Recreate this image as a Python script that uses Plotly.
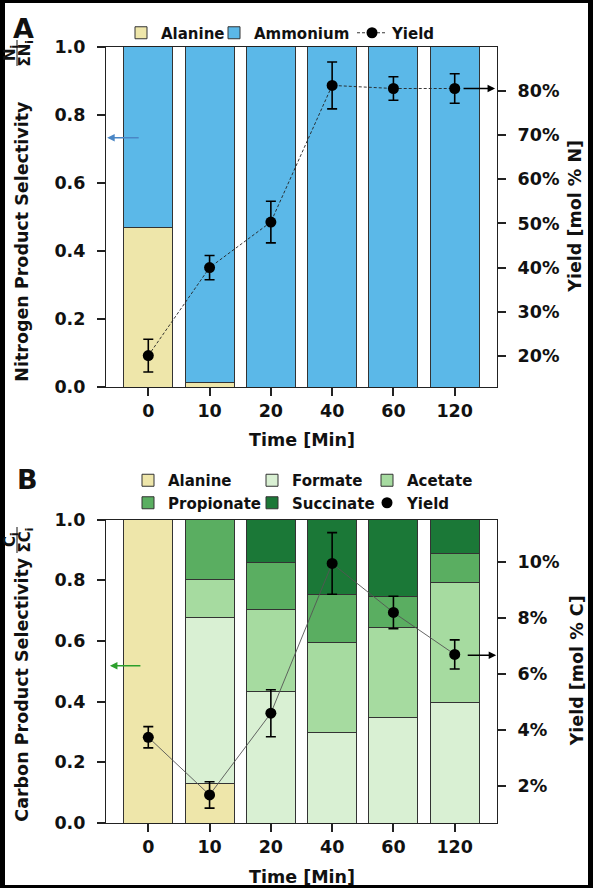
import plotly.graph_objects as go

W, H = 593, 888

# ---------------- data ----------------
times = ["0", "10", "20", "40", "60", "120"]

# Panel A: nitrogen product selectivity (fractions) and yield (mol % N)
n_alanine = [0.467, 0.013, None, None, None, None]
n_ammonium = [0.533, 0.987, 1.0, 1.0, 1.0, 1.0]
n_yield = [20.1, 40.0, 50.3, 81.2, 80.5, 80.5]
n_yield_err = [3.7, 2.75, 4.7, 5.3, 2.65, 3.35]

# Panel B: carbon product selectivity (fractions) and yield (mol % C)
c_alanine = [1.0, 0.129, None, None, None, None]
c_formate = [None, 0.547, 0.432, 0.299, 0.349, 0.398]
c_acetate = [None, 0.126, 0.270, 0.297, 0.294, 0.393]
c_propionate = [None, 0.198, 0.156, 0.157, 0.102, 0.096]
c_succinate = [None, None, 0.142, 0.247, 0.255, 0.113]
c_yield = [3.73, 1.67, 4.59, 9.94, 8.19, 6.69]
c_yield_err = [0.38, 0.47, 0.84, 1.10, 0.58, 0.52]

sel_ticks = [0.0, 0.2, 0.4, 0.6, 0.8, 1.0]
n_yield_ticks = [20, 30, 40, 50, 60, 70, 80]
c_yield_ticks = [2, 4, 6, 8, 10]

# ---------------- style ----------------
FONT = "DejaVu Sans"
INK = "#111111"
EDGE = "#333333"
COL = {
    "Alanine": "#EEE6AA",
    "Ammonium": "#5BB8E8",
    "Formate": "#D9F0D3",
    "Acetate": "#A6DBA0",
    "Propionate": "#5AAE61",
    "Succinate": "#1B7837",
}


def fx(px):
    return px / W


def fy(py):
    return 1 - py / H


XDOM = [fx(106), fx(497)]
A_DOM = [fy(387), fy(46.5)]
B_DOM = [fy(823), fy(519.5)]

tickfont = dict(family=FONT, size=17.5, color=INK, weight="bold")
legfont = dict(family=FONT, size=15, color=INK, weight="bold")

fig = go.Figure()


def bar(name, vals, xa, ya, legend):
    fig.add_trace(go.Bar(
        x=times, y=vals, name=name, xaxis=xa, yaxis=ya,
        marker=dict(color=COL[name], line=dict(color=EDGE, width=1)),
        legend=legend, showlegend=True, hoverinfo="skip",
    ))


# Panel A bars
bar("Alanine", n_alanine, "x", "y", "legend")
bar("Ammonium", n_ammonium, "x", "y", "legend5")

# Panel B bars
bar("Alanine", c_alanine, "x2", "y3", "legend2")
bar("Formate", c_formate, "x2", "y3", "legend3")
bar("Acetate", c_acetate, "x2", "y3", "legend4")
bar("Propionate", c_propionate, "x2", "y3", "legend2")
bar("Succinate", c_succinate, "x2", "y3", "legend3")

# Panel A yield
fig.add_trace(go.Scatter(
    x=times, y=n_yield, name="Yield", xaxis="x", yaxis="y2",
    mode="lines+markers",
    line=dict(color="#222222", width=0.9, dash="3px,2px"),
    marker=dict(color="black", size=11),
    error_y=dict(type="data", array=n_yield_err, color="black", thickness=1.6, width=5),
    legend="legend6", hoverinfo="skip",
))

# Panel B yield: connecting line + points with error bars
fig.add_trace(go.Scatter(
    x=times, y=c_yield, xaxis="x2", yaxis="y4", mode="lines",
    line=dict(color="#555555", width=0.9), showlegend=False, hoverinfo="skip",
))
fig.add_trace(go.Scatter(
    x=times, y=c_yield, name="Yield", xaxis="x2", yaxis="y4",
    mode="markers", marker=dict(color="black", size=11),
    error_y=dict(type="data", array=c_yield_err, color="black", thickness=1.6, width=5),
    legend="legend4", hoverinfo="skip",
))

axis_common = dict(
    showline=True, linecolor="#222222", linewidth=1.2,
    ticks="outside", ticklen=8, tickwidth=1.5, tickcolor="#222222",
    tickfont=tickfont, showgrid=False, zeroline=False, automargin=False,
    fixedrange=True,
)

xaxis_common = dict(axis_common, type="category", categoryorder="array",
                    categoryarray=times, range=[-0.69, 5.69], mirror=True, domain=XDOM)

left_common = dict(axis_common, range=[0, 1], tickvals=sel_ticks,
                   ticktext=[f"{v:.1f}" for v in sel_ticks], ticklabelstandoff=8)

fig.update_layout(
    xaxis=dict(xaxis_common, anchor="y"),
    yaxis=dict(left_common, domain=A_DOM, anchor="x"),
    yaxis2=dict(axis_common, overlaying="y", side="right", anchor="x",
                range=[13.0, 90.0], tickvals=n_yield_ticks,
                ticktext=[f"{v}%" for v in n_yield_ticks], ticklabelstandoff=8),
    xaxis2=dict(xaxis_common, anchor="y3"),
    yaxis3=dict(left_common, domain=B_DOM, anchor="x2"),
    yaxis4=dict(axis_common, overlaying="y3", side="right", anchor="x2",
                range=[0.667, 11.51], tickvals=c_yield_ticks,
                ticktext=[f"{v}%" for v in c_yield_ticks], ticklabelstandoff=8),
)


def legend_at(sx, sy):
    return dict(x=fx(sx - 20), y=fy(sy), xanchor="left", yanchor="middle",
                orientation="v", traceorder="normal", font=legfont,
                bgcolor="rgba(0,0,0,0)", borderwidth=0, itemclick=False,
                itemdoubleclick=False)


fig.update_layout(
    legend=legend_at(141, 33),
    legend5=legend_at(234, 33),
    legend6=legend_at(372, 33),
    legend2=legend_at(148, 491.5),
    legend3=legend_at(272, 491.5),
    legend4=legend_at(387, 491.5),
)

annotations = []


def text(t, px, py, size=17.5, angle=0, weight="bold"):
    annotations.append(dict(
        text=t, x=fx(px), y=fy(py), xref="paper", yref="paper",
        xanchor="center", yanchor="middle", showarrow=False, textangle=angle,
        font=dict(family=FONT, size=size, color=INK, weight=weight),
    ))


# panel letters
text("A", 23, 28, size=27)
text("B", 27, 479, size=27)

# x titles
text("Time [Min]", 301.5, 440)
text("Time [Min]", 301.5, 877)

# left titles with fractions
text("Nitrogen Product Selectivity", 22, 241.7, angle=-90)
text("N<sub>i</sub>", 10, 53, size=15, angle=-90)
text("ΣN<sub>i</sub>", 24.5, 53, size=15, angle=-90)
text("Carbon Product Selectivity", 22, 689.7, angle=-90)
text("C<sub>i</sub>", 10, 540, size=15, angle=-90)
text("ΣC<sub>i</sub>", 24.5, 540, size=15, angle=-90)

# right titles
text("Yield [mol % N]", 575, 216.7, angle=-90)
text("Yield [mol % C]", 577, 671.3, angle=-90)


def arrow(xref, yref, x, y, ax, color, head=2):
    annotations.append(dict(
        text="", xref=xref, yref=yref, x=x, y=y, ax=ax, ay=0,
        showarrow=True, arrowhead=head, arrowsize=1, arrowwidth=1.5,
        arrowcolor=color, standoff=0, startstandoff=0,
    ))


arrow("x domain", "y", 0.003, 0.732, 33, "#4A86C5")
arrow("x domain", "y2", 0.995, 80.5, -33, "black")
arrow("x2 domain", "y3", 0.01, 0.518, 32, "#2CA02C")
arrow("x2 domain", "y4", 0.998, 6.66, -30, "black")

shapes = [
    # fraction bars
    dict(type="line", xref="paper", yref="paper", x0=fx(17), x1=fx(17),
         y0=fy(40), y1=fy(66), line=dict(color=INK, width=1)),
    dict(type="line", xref="paper", yref="paper", x0=fx(17), x1=fx(17),
         y0=fy(527), y1=fy(553), line=dict(color=INK, width=1)),
    # black frame around figure
    dict(type="rect", xref="paper", yref="paper", x0=0, x1=fx(5), y0=0, y1=1,
         fillcolor="black", line=dict(width=0)),
    dict(type="rect", xref="paper", yref="paper", x0=fx(588), x1=1, y0=0, y1=1,
         fillcolor="black", line=dict(width=0)),
    dict(type="rect", xref="paper", yref="paper", x0=0, x1=1, y0=fy(3), y1=1,
         fillcolor="black", line=dict(width=0)),
    dict(type="rect", xref="paper", yref="paper", x0=0, x1=1, y0=0, y1=fy(885),
         fillcolor="black", line=dict(width=0)),
]

fig.update_layout(
    width=W, height=H, template="none",
    margin=dict(l=0, r=0, t=0, b=0, pad=0, autoexpand=False),
    paper_bgcolor="white", plot_bgcolor="white",
    barmode="stack", bargap=0.2,
    font=dict(family=FONT, color=INK),
    annotations=annotations, shapes=shapes,
)

fig.write_html("out.html", config={"displayModeBar": False},
               post_script="document.body.style.margin='0';")
